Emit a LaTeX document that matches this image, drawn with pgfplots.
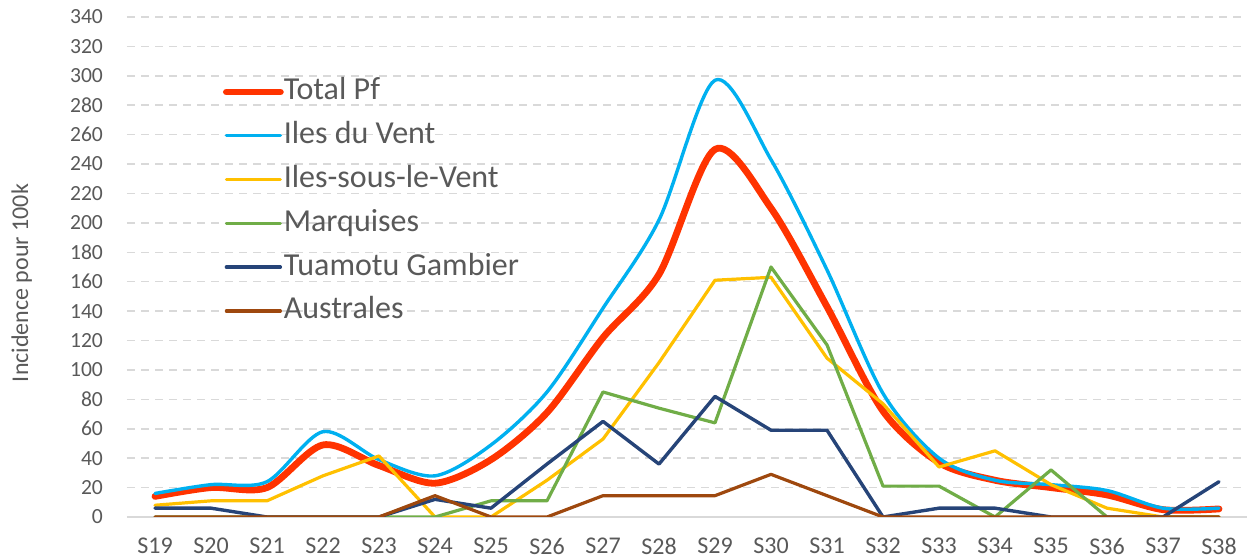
\documentclass[border=0pt]{standalone}
\usepackage{fontspec}
\setmainfont{Carlito}
\usepackage{pgfplots}
\pgfplotsset{compat=1.18}

\definecolor{cTotal}{HTML}{FF3300}
\definecolor{cIDV}{HTML}{00B0F0}
\definecolor{cISLV}{HTML}{FFC000}
\definecolor{cMarq}{HTML}{70AD47}
\definecolor{cTuam}{HTML}{264478}
\definecolor{cAust}{HTML}{9E480E}
\definecolor{txt}{HTML}{595959}
\definecolor{gridc}{HTML}{D9D9D9}

% week index, incidence per 100k
\pgfplotstableread{
x total idv islv marq tuam aust
0  14   16   8    0   6  0
1  20   22   11   0   6  0
2  20   24   11   0   0  0
3  49   58   28   0   0  0
4  35   39   41.5 0   0  0
5  23   28   0    0   12 14.5
6  39   49   0    11  6  0
7  71   85   25   11  36 0
8  122  142  53   85  65 14.5
9  165  202  105  74  36 14.5
10 250  297  161  64  82 14.5
11 210  243  163  170 59 29
12 143  168  108  117 59 14.5
13 72   84   77   21  0  0
14 37   40   34   21  6  0
15 25   25   45   0   6  0
16 20   22   22   32  0  0
17 15   18   6    0   0  0
18 5    6    0    0   0  0
19 5.5  6    0    0   24 0
}\data

\begin{document}
\begin{tikzpicture}
\begin{axis}[
  scale only axis, width=560pt, height=250pt,
  xmin=-0.5, xmax=19.5, ymin=0, ymax=340,
  xtick=data,
  xticklabels={S19,S20,S21,S22,S23,S24,S25,S26,S27,S28,S29,S30,S31,S32,S33,S34,S35,S36,S37,S38},
  ytick={0,20,...,340},
  major tick length=0pt,
  axis line style={draw=none},
  ymajorgrids,
  grid style={gridc, line width=0.75pt, dash pattern=on 4pt off 3pt},
  extra y ticks={0}, extra y tick labels={},
  extra y tick style={grid style={gridc, line width=0.75pt, solid}},
  /pgf/number format/assume math mode=true,
  yticklabel style={font=\fontsize{10.8}{12}\selectfont, text=txt, xshift=-8.5pt},
  xticklabel style={font=\fontsize{12}{14}\selectfont, text=txt, yshift=-7pt},
  ylabel={Incidence pour 100k},
  ylabel style={font=\fontsize{12}{14}\selectfont, text=txt,
                at={(axis description cs:-0.094,0.468)}, anchor=center},
  legend cell align=left,
  legend style={at={(axis description cs:0.0857,0.882)}, anchor=north west,
    draw=none, fill=none, inner sep=0pt, outer sep=0pt,
    font=\fontsize{16}{19}\selectfont, text=txt,
    row sep=5.9pt, column sep=0pt,
    nodes={inner sep=0pt, text height=12pt, text depth=4pt}},
  legend image code/.code={\draw[#1] (0pt,0pt) -- (27pt,0pt);},
]
\addplot[cTotal, line width=3.4pt, smooth, line cap=round, line join=round] table[x=x, y=total] {\data};
\addplot[cIDV, line width=1.7pt, smooth, line cap=round, line join=round] table[x=x, y=idv] {\data};
\addplot[cISLV, line width=1.6pt, line cap=round, line join=round] table[x=x, y=islv] {\data};
\addplot[cMarq, line width=1.6pt, line cap=round, line join=round] table[x=x, y=marq] {\data};
\addplot[cTuam, line width=1.7pt, line cap=round, line join=round] table[x=x, y=tuam] {\data};
\addplot[cAust, line width=1.6pt, line cap=round, line join=round] table[x=x, y=aust] {\data};
\legend{Total Pf, Iles du Vent, Iles-sous-le-Vent, Marquises, Tuamotu Gambier, Australes}
\coordinate (sw) at (rel axis cs:0,0);
\coordinate (ne) at (rel axis cs:1,1);
\end{axis}
\pgfresetboundingbox
\path ([shift={(-63.5pt,-21.5pt)}]sw) rectangle ([shift={(1pt,8.5pt)}]ne);
\end{tikzpicture}
\end{document}
